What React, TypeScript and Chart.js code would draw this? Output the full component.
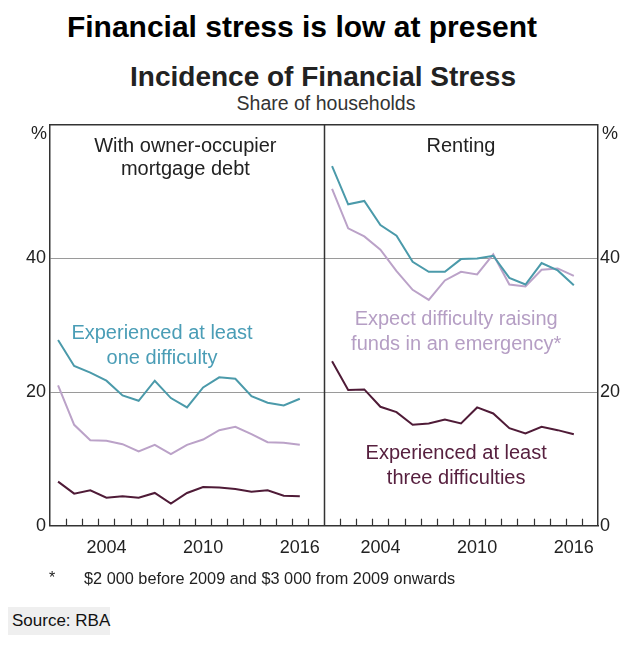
import React, { useEffect, useRef } from "react";
import { Chart, registerables } from "chart.js";

Chart.register(...registerables);

// ---------- data ----------
const years = [2001, 2002, 2003, 2004, 2005, 2006, 2007, 2008, 2009, 2010, 2011, 2012, 2013, 2014, 2015, 2016];
const tickYears = [2004, 2010, 2016];
const yTickValues = [0, 20, 40, 60];

const ownerOneDifficulty = [27.8, 23.9, 22.9, 21.7, 19.5, 18.7, 21.7, 19.1, 17.7, 20.7, 22.2, 22.0, 19.4, 18.4, 18.0, 19.0];
const ownerEmergency = [21.0, 15.1, 12.8, 12.7, 12.2, 11.1, 12.1, 10.7, 12.1, 12.9, 14.3, 14.8, 13.7, 12.5, 12.4, 12.1];
const ownerThreeDifficulties = [6.6, 4.8, 5.3, 4.2, 4.4, 4.2, 4.9, 3.3, 4.9, 5.8, 5.7, 5.5, 5.1, 5.3, 4.5, 4.4];

const renterOneDifficulty = [53.8, 48.1, 48.6, 45.0, 43.4, 39.5, 38.0, 38.0, 39.9, 40.0, 40.4, 37.1, 36.1, 39.3, 38.2, 36.0];
const renterEmergency = [50.4, 44.5, 43.3, 41.3, 38.1, 35.3, 33.8, 36.7, 38.0, 37.6, 40.6, 36.1, 35.8, 38.3, 38.5, 37.4];
const renterThreeDifficulties = [24.6, 20.3, 20.4, 17.8, 17.0, 15.1, 15.3, 15.9, 15.3, 17.7, 16.8, 14.6, 13.8, 14.8, 14.3, 13.7];

// ---------- style ----------
const FONT = '"Liberation Sans", Arial, Helvetica, sans-serif';
const TEAL = "#4b9aaa";
const TEAL_TEXT = "#4a9db6";
const PURPLE = "#bba2c8";
const PURPLE_TEXT = "#b59ec4";
const MAROON = "#4f1b37";
const MAROON_TEXT = "#57203f";
const FRAME = "#333333";
const GRID = "#9a9a9a";
const SLOTS = 17; // year slots per panel (2001–2017)
const FIRST_YEAR = years[0];

const slotX = (year: number, panel: number) => year - FIRST_YEAR + 0.5 + panel * SLOTS;
const series = (vals: number[], panel: number) => vals.map((v, i) => ({ x: slotX(years[i], panel), y: v }));

const line = (label: string, vals: number[], panel: number, color: string) => ({
  label,
  data: series(vals, panel),
  borderColor: color,
  backgroundColor: color,
  borderWidth: 2,
  pointRadius: 0,
  tension: 0,
});

const tickPositions = [0, 1].flatMap((p) => tickYears.map((y) => ({ value: slotX(y, p), label: String(y) })));

const decorPlugin = {
  id: "decor",
  afterDraw(chart: any) {
    const { ctx, chartArea: a, scales } = chart;
    const xs = scales.x;
    const ys = scales.y;
    ctx.save();
    ctx.strokeStyle = FRAME;
    ctx.lineWidth = 1.5;
    ctx.beginPath();
    ctx.moveTo(a.left, a.top);
    ctx.lineTo(a.right, a.top);
    ctx.stroke();
    const dx = Math.round(xs.getPixelForValue(SLOTS)) + 0.5;
    ctx.beginPath();
    ctx.moveTo(dx, a.top);
    ctx.lineTo(dx, a.bottom);
    ctx.stroke();
    ctx.lineWidth = 1.2;
    for (let i = 1; i < SLOTS * 2; i++) {
      if (i === SLOTS) continue;
      const px = Math.round(xs.getPixelForValue(i)) + 0.5;
      ctx.beginPath();
      ctx.moveTo(px, a.bottom);
      ctx.lineTo(px, a.bottom - 7);
      ctx.stroke();
    }
    // % unit labels
    ctx.fillStyle = "#222";
    ctx.font = `18px ${FONT}`;
    ctx.textBaseline = "middle";
    ctx.textAlign = "center";
    ctx.fillText("%", a.left - 11, a.top + 9);
    ctx.fillText("%", a.right + 12, a.top + 9);

    const txt = (s: string, xv: number, yv: number, color: string, size: number) => {
      ctx.fillStyle = color;
      ctx.font = `${size}px ${FONT}`;
      ctx.fillText(s, xs.getPixelForValue(xv), ys.getPixelForValue(yv));
    };
    // panel titles
    txt("With owner-occupier", 8.4, 56.7, "#222", 20);
    txt("mortgage debt", 8.4, 53.3, "#222", 20);
    txt("Renting", 25.5, 56.7, "#222", 20);
    // series labels
    txt("Experienced at least", 6.95, 28.7, TEAL_TEXT, 20);
    txt("one difficulty", 6.95, 25.0, TEAL_TEXT, 20);
    txt("Expect difficulty raising", 25.2, 30.8, PURPLE_TEXT, 20);
    txt("funds in an emergency*", 25.2, 27.1, PURPLE_TEXT, 20);
    txt("Experienced at least", 25.2, 10.8, MAROON_TEXT, 20);
    txt("three difficulties", 25.2, 7.1, MAROON_TEXT, 20);
    ctx.restore();
  },
};

function Text(props: { x: number; y: number; size: number; bold?: boolean; color?: string; align?: string; children: any }) {
  const { x, y, size, bold, color, align, children } = props;
  const tx = align === "left" ? "0" : "-50%";
  return (
    <div
      style={{
        position: "absolute",
        left: x,
        top: y,
        transform: `translate(${tx}, -50%)`,
        fontSize: size,
        fontWeight: bold ? 700 : 400,
        color: color || "#111",
        whiteSpace: "nowrap",
        lineHeight: 1,
        fontFamily: FONT,
      }}
    >
      {children}
    </div>
  );
}

export default function App() {
  const ref = useRef<HTMLCanvasElement>(null);
  useEffect(() => {
    const yAxisBase = {
      min: 0,
      max: 60,
      afterBuildTicks: (s: any) => {
        s.ticks = yTickValues.map((v) => ({ value: v }));
      },
      ticks: {
        color: "#222",
        font: { family: FONT, size: 18 },
        callback: (v: any) => (v === 60 ? "" : String(v)),
      },
    };
    const chart = new Chart(ref.current as HTMLCanvasElement, {
      type: "line",
      data: {
        datasets: [
          line("Owner: at least one difficulty", ownerOneDifficulty, 0, TEAL),
          line("Owner: emergency funds", ownerEmergency, 0, PURPLE),
          line("Owner: at least three difficulties", ownerThreeDifficulties, 0, MAROON),
          line("Renter: at least one difficulty", renterOneDifficulty, 1, TEAL),
          line("Renter: emergency funds", renterEmergency, 1, PURPLE),
          line("Renter: at least three difficulties", renterThreeDifficulties, 1, MAROON),
        ],
      },
      options: {
        responsive: false,
        animation: false,
        devicePixelRatio: 1,
        layout: { padding: { top: 12, left: 0, right: 0, bottom: 0 } },
        plugins: { legend: { display: false }, tooltip: { enabled: false } },
        scales: {
          x: {
            type: "linear",
            min: 0,
            max: SLOTS * 2,
            afterBuildTicks: (s: any) => {
              s.ticks = tickPositions.map((t) => ({ value: t.value }));
            },
            afterFit: (s: any) => {
              s.height = 44.3;
            },
            ticks: {
              color: "#222",
              font: { family: FONT, size: 18 },
              padding: 12,
              maxRotation: 0,
              autoSkip: false,
              callback: (v: any) => {
                const t = tickPositions.find((p) => Math.abs(p.value - v) < 0.01);
                return t ? t.label : "";
              },
            },
            grid: { display: false, drawTicks: false },
            border: { display: true, color: FRAME, width: 1.5 },
          },
          y: {
            ...yAxisBase,
            position: "left",
            afterFit: (s: any) => {
              s.width = 50;
            },
            ticks: { ...yAxisBase.ticks, padding: 4 },
            grid: {
              drawTicks: false,
              lineWidth: 1,
              color: (c: any) => (c.tick && (c.tick.value === 20 || c.tick.value === 40) ? GRID : "rgba(0,0,0,0)"),
            },
            border: { display: true, color: FRAME, width: 1.5 },
          },
          y2: {
            ...yAxisBase,
            position: "right",
            afterFit: (s: any) => {
              s.width = 42;
            },
            ticks: { ...yAxisBase.ticks, padding: 2 },
            grid: { drawOnChartArea: false, drawTicks: false },
            border: { display: true, color: FRAME, width: 1.5 },
          },
        },
      } as any,
      plugins: [decorPlugin],
    });
    return () => chart.destroy();
  }, []);

  return (
    <div
      style={{
        position: "fixed",
        left: 0,
        top: 0,
        width: 640,
        height: 647,
        background: "#fff",
        overflow: "hidden",
        fontFamily: FONT,
      }}
    >
      <Text x={302} y={27} size={30} bold color="#000">
        Financial stress is low at present
      </Text>
      <Text x={323} y={77} size={28} bold color="#222">
        Incidence of Financial Stress
      </Text>
      <Text x={326} y={104} size={19.5} color="#333">
        Share of households
      </Text>
      <canvas
        ref={ref}
        width={640}
        height={460}
        style={{ position: "absolute", left: 0, top: 110, width: 640, height: 460 }}
      />
      <Text x={52} y={578} size={16} color="#222">
        *
      </Text>
      <Text x={84} y={578} size={16.3} color="#222" align="left">
        $2 000 before 2009 and $3 000 from 2009 onwards
      </Text>
      <div
        style={{
          position: "absolute",
          left: 8,
          top: 607,
          width: 102,
          height: 28,
          background: "#efefef",
        }}
      />
      <Text x={12} y={620} size={17} color="#111" align="left">
        Source: RBA
      </Text>
    </div>
  );
}
